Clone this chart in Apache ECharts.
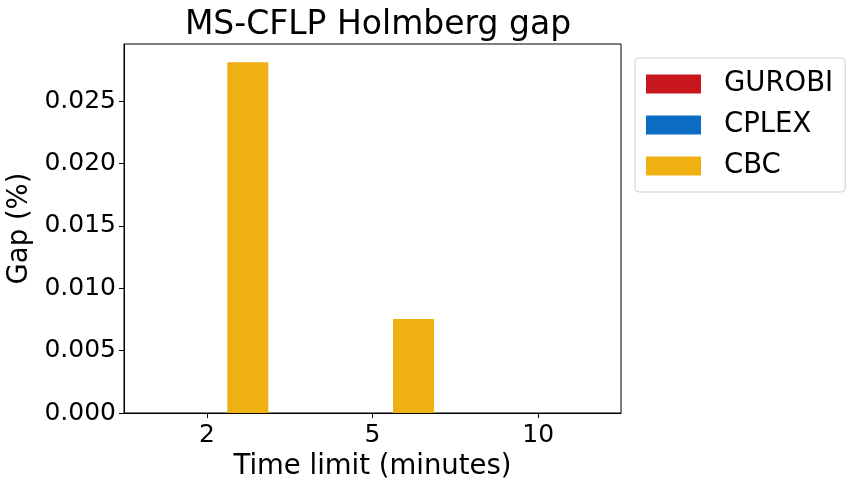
<!DOCTYPE html>
<html>
<head>
<meta charset="utf-8">
<script src="https://cdn.jsdelivr.net/npm/echarts@6/dist/echarts.min.js"></script>
<style>
  html, body { margin: 0; padding: 0; background: #fff; }
  #chart { width: 854px; height: 491px; }
</style>
</head>
<body>
<div id="chart"></div>
<script>
// Datos
const tiempos = ['2', '5', '10'];
const gapGurobi = [0, 0, 0];
const gapCplex = [0, 0, 0];
const gapCbc = [0.0281, 0.00753, 0];

const fuente = 'DejaVu Sans';

const chart = echarts.init(document.getElementById('chart'), null, { renderer: 'canvas' });

function serie(nombre, datos, color) {
  return {
    name: nombre,
    type: 'bar',
    data: datos,
    barWidth: 41,
    barGap: '0%',
    itemStyle: { color: color },
    silent: true
  };
}

const option = {
  animation: false,
  backgroundColor: '#ffffff',
  textStyle: { fontFamily: fuente },
  title: {
    text: 'MS-CFLP Holmberg gap',
    left: 373,
    top: 4,
    textAlign: 'center',
    textStyle: { fontFamily: fuente, fontSize: 33, fontWeight: 'normal', color: '#000' }
  },
  legend: {
    orient: 'vertical',
    left: 635,
    top: 58,
    padding: [12, 12, 12, 11],
    itemWidth: 55,
    itemHeight: 19,
    itemGap: 13,
    icon: 'rect',
    borderColor: '#d0d0d0',
    borderWidth: 1,
    borderRadius: 4,
    textStyle: { fontFamily: fuente, fontSize: 27.5, color: '#000', lineHeight: 28, padding: [0, 0, 0, 18] },
    data: ['GUROBI', 'CPLEX', 'CBC']
  },
  grid: {
    left: 124,
    right: 233,
    top: 44,
    bottom: 78,
    outerBoundsMode: 'none',
    containLabel: false,
    show: true,
    borderColor: '#000',
    borderWidth: 1,
    backgroundColor: 'transparent'
  },
  xAxis: {
    type: 'category',
    data: tiempos,
    name: 'Time limit (minutes)',
    nameLocation: 'middle',
    nameGap: 40,
    nameTextStyle: { fontFamily: fuente, fontSize: 27.5, color: '#000' },
    axisLine: { show: true, lineStyle: { color: '#000', width: 1 } },
    axisTick: { show: true, alignWithLabel: true, length: 5, lineStyle: { color: '#000' } },
    axisLabel: { fontFamily: fuente, fontSize: 25, color: '#000', margin: 10 },
    splitLine: { show: false }
  },
  yAxis: {
    type: 'value',
    min: 0,
    max: 0.02957,
    interval: 0.005,
    name: 'Gap (%)',
    nameLocation: 'middle',
    nameGap: 86,
    nameTextStyle: { fontFamily: fuente, fontSize: 27.5, color: '#000' },
    axisLine: { show: true, lineStyle: { color: '#000', width: 1 } },
    axisTick: { show: true, length: 5, lineStyle: { color: '#000' } },
    axisLabel: {
      fontFamily: fuente,
      fontSize: 25,
      color: '#000',
      margin: 8,
      showMaxLabel: false,
      formatter: function (v) { return v.toFixed(3); }
    },
    splitLine: { show: false }
  },
  series: [
    serie('GUROBI', gapGurobi, '#c8161d'),
    serie('CPLEX', gapCplex, '#0b6cc3'),
    serie('CBC', gapCbc, '#eeb111')
  ]
};

chart.setOption(option);
</script>
</body>
</html>
